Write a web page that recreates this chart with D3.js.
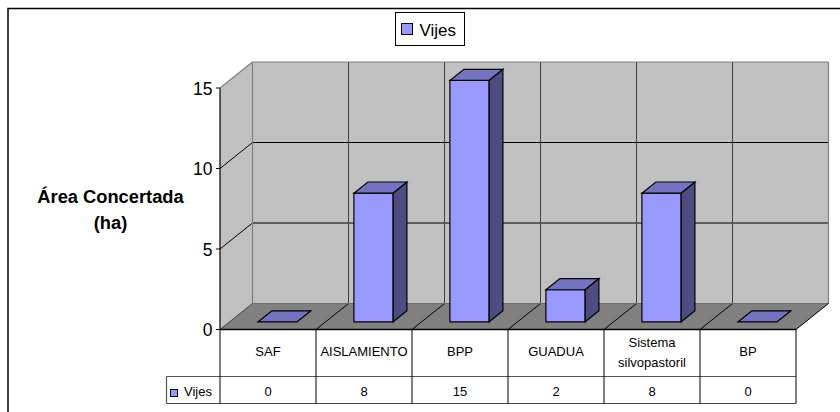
<!DOCTYPE html>
<html><head><meta charset="utf-8">
<script src="https://cdn.jsdelivr.net/npm/d3@7"></script>
<style>html,body{margin:0;padding:0;background:#fff}svg{display:block}text{font-family:"Liberation Sans",Arial,sans-serif;fill:#000}</style>
</head><body><svg id="c" width="840" height="412"></svg>
<script>
const categories = ["SAF","AISLAMIENTO","BPP","GUADUA","Sistema|silvopastoril","BP"];
const vijes = [0,8,15,2,8,0];
const yTicks = [0,5,10,15];
const seriesName = "Vijes";
const yTitle = ["Área Concertada","(ha)"];

const svg = d3.select("#c");
const frontL = 220, frontR = 796, y0 = 329.5, y15 = 88;
const DX = 32.5, DY = 26;
const x = d3.scaleBand().domain(categories).range([frontL, frontR]);
const y = d3.scaleLinear().domain([0,15]).range([y0, y15]);
const wallTop = y(15) - DY;
const line = (x1,y1,x2,y2,c,w) => svg.append("line").attr("x1",x1).attr("y1",y1).attr("x2",x2).attr("y2",y2).attr("stroke",c).attr("stroke-width",w||1);
const poly = (pts,f,s,w) => svg.append("polygon").attr("points",pts.map(p=>p.join(",")).join(" ")).attr("fill",f).attr("stroke",s||"none").attr("stroke-width",w||1).attr("stroke-linejoin","miter");

// outer frame: the picture is cropped, only left and top edges show
svg.append("path").attr("d","M8,412V8.5H840").attr("fill","none").attr("stroke","#000").attr("stroke-width",1.5);

// walls
poly([[frontL+DX,wallTop],[frontR+DX,wallTop],[frontR+DX,y0-DY],[frontL+DX,y0-DY]],"#c0c0c0");
poly([[frontL,y(15)],[frontL+DX,wallTop],[frontL+DX,y0-DY],[frontL,y0]],"#c0c0c0");
poly([[frontL,y0],[frontL+DX,y0-DY],[frontR+DX,y0-DY],[frontR,y0]],"#808080");

// gridlines
yTicks.filter(t=>t>0 && t<15).forEach(t=>{
  line(frontL,y(t),frontL+DX,y(t)-DY,"#000");
  line(frontL+DX,y(t)-DY,frontR+DX,y(t)-DY,"#000");
});
categories.slice(1).forEach(c=>{
  line(x(c)+DX,wallTop,x(c)+DX,y0-DY,"#404040");
  line(x(c),y0,x(c)+DX,y0-DY,"#000");
});
// wall outlines
const G="#808080";
line(frontL,y(15),frontL+DX,wallTop,G,1.2);
line(frontL+DX,wallTop,frontR+DX,wallTop,G,1.2);
line(frontL+DX,wallTop,frontL+DX,y0-DY,G,1.2);
line(frontR+DX,wallTop,frontR+DX,y0-DY,G,1.2);
line(frontL+DX,y0-DY,frontR+DX,y0-DY,"#6e6e6e",1);
line(frontL,y0,frontL+DX,y0-DY,"#404040",1);
line(frontR,y0,frontR+DX,y0-DY,"#000",1);

// bars
const bw = 39, df = 0.29, db = 0.43;
categories.forEach((c,i)=>{
  const v = vijes[i];
  const cx = x(c)+x.bandwidth()/2 + DX*df;
  const l = cx-bw/2, r = cx+bw/2;
  const off = y0 - y(v);
  const b = y0 - DY*df, t = b - off;
  const ddx = DX*db, ddy = DY*db;
  if (v>0){
    poly([[r,b],[r+ddx,b-ddy],[r+ddx,t-ddy],[r,t]],"#4d4d80","#000",1.2);
    poly([[l,t],[r,t],[r,b],[l,b]],"#9999ff","#000",1.2);
  }
  poly([[l,t],[l+ddx,t-ddy],[r+ddx,t-ddy],[r,t]],"#7373bf","#000",1.2);
});

// y axis
line(frontL,y(15),frontL,y0,"#000",1.2);
line(frontL,y0,frontR,y0,"#000",1.5);
yTicks.forEach(t=>{
  line(frontL-4,y(t),frontL,y(t),"#000");
  svg.append("text").attr("x",frontL-7.5).attr("y",y(t)+6.5).attr("text-anchor","end").attr("font-size",17.5).text(t);
});

// title
yTitle.forEach((s,i)=>svg.append("text").attr("x",110.5).attr("y",203+i*26).attr("text-anchor","middle").attr("font-size",18.3).attr("font-weight","bold").text(s));

// legend
svg.append("rect").attr("x",395.5).attr("y",12.5).attr("width",69).attr("height",33).attr("fill","#fff").attr("stroke","#000").attr("stroke-width",1);
svg.append("rect").attr("x",401.5).attr("y",23.5).attr("width",11).attr("height",11).attr("fill","#9999ff").attr("stroke","#000");
svg.append("text").attr("x",419.5).attr("y",35.5).attr("font-size",17).text(seriesName);

// data table
const r1 = 376.5, r2 = 403.5, leftT = 166.5;
line(leftT,r1,frontR,r1,"#555",1.2);
line(leftT,r2,frontR,r2,"#444",1.2);
line(leftT,r1,leftT,r2,"#555",1.2);
line(frontL,y0,frontL,r2,"#000",1);
categories.forEach((c,i)=>{
  line(x(c)+x.bandwidth(),y0,x(c)+x.bandwidth(),r2,"#000",1);
  const mx = x(c)+x.bandwidth()/2;
  const parts = c.split("|");
  parts.forEach((s,k)=>svg.append("text").attr("x",mx).attr("text-anchor","middle").attr("font-size",13)
    .attr("y",(parts.length>1?347:356)+k*20).text(s));
  svg.append("text").attr("x",mx).attr("y",396).attr("text-anchor","middle").attr("font-size",13).text(vijes[i]);
});
svg.append("rect").attr("x",170.5).attr("y",389.5).attr("width",7).attr("height",7).attr("fill","#9999ff").attr("stroke","#000");
svg.append("text").attr("x",184).attr("y",396).attr("font-size",13).text(seriesName);
</script></body></html>
